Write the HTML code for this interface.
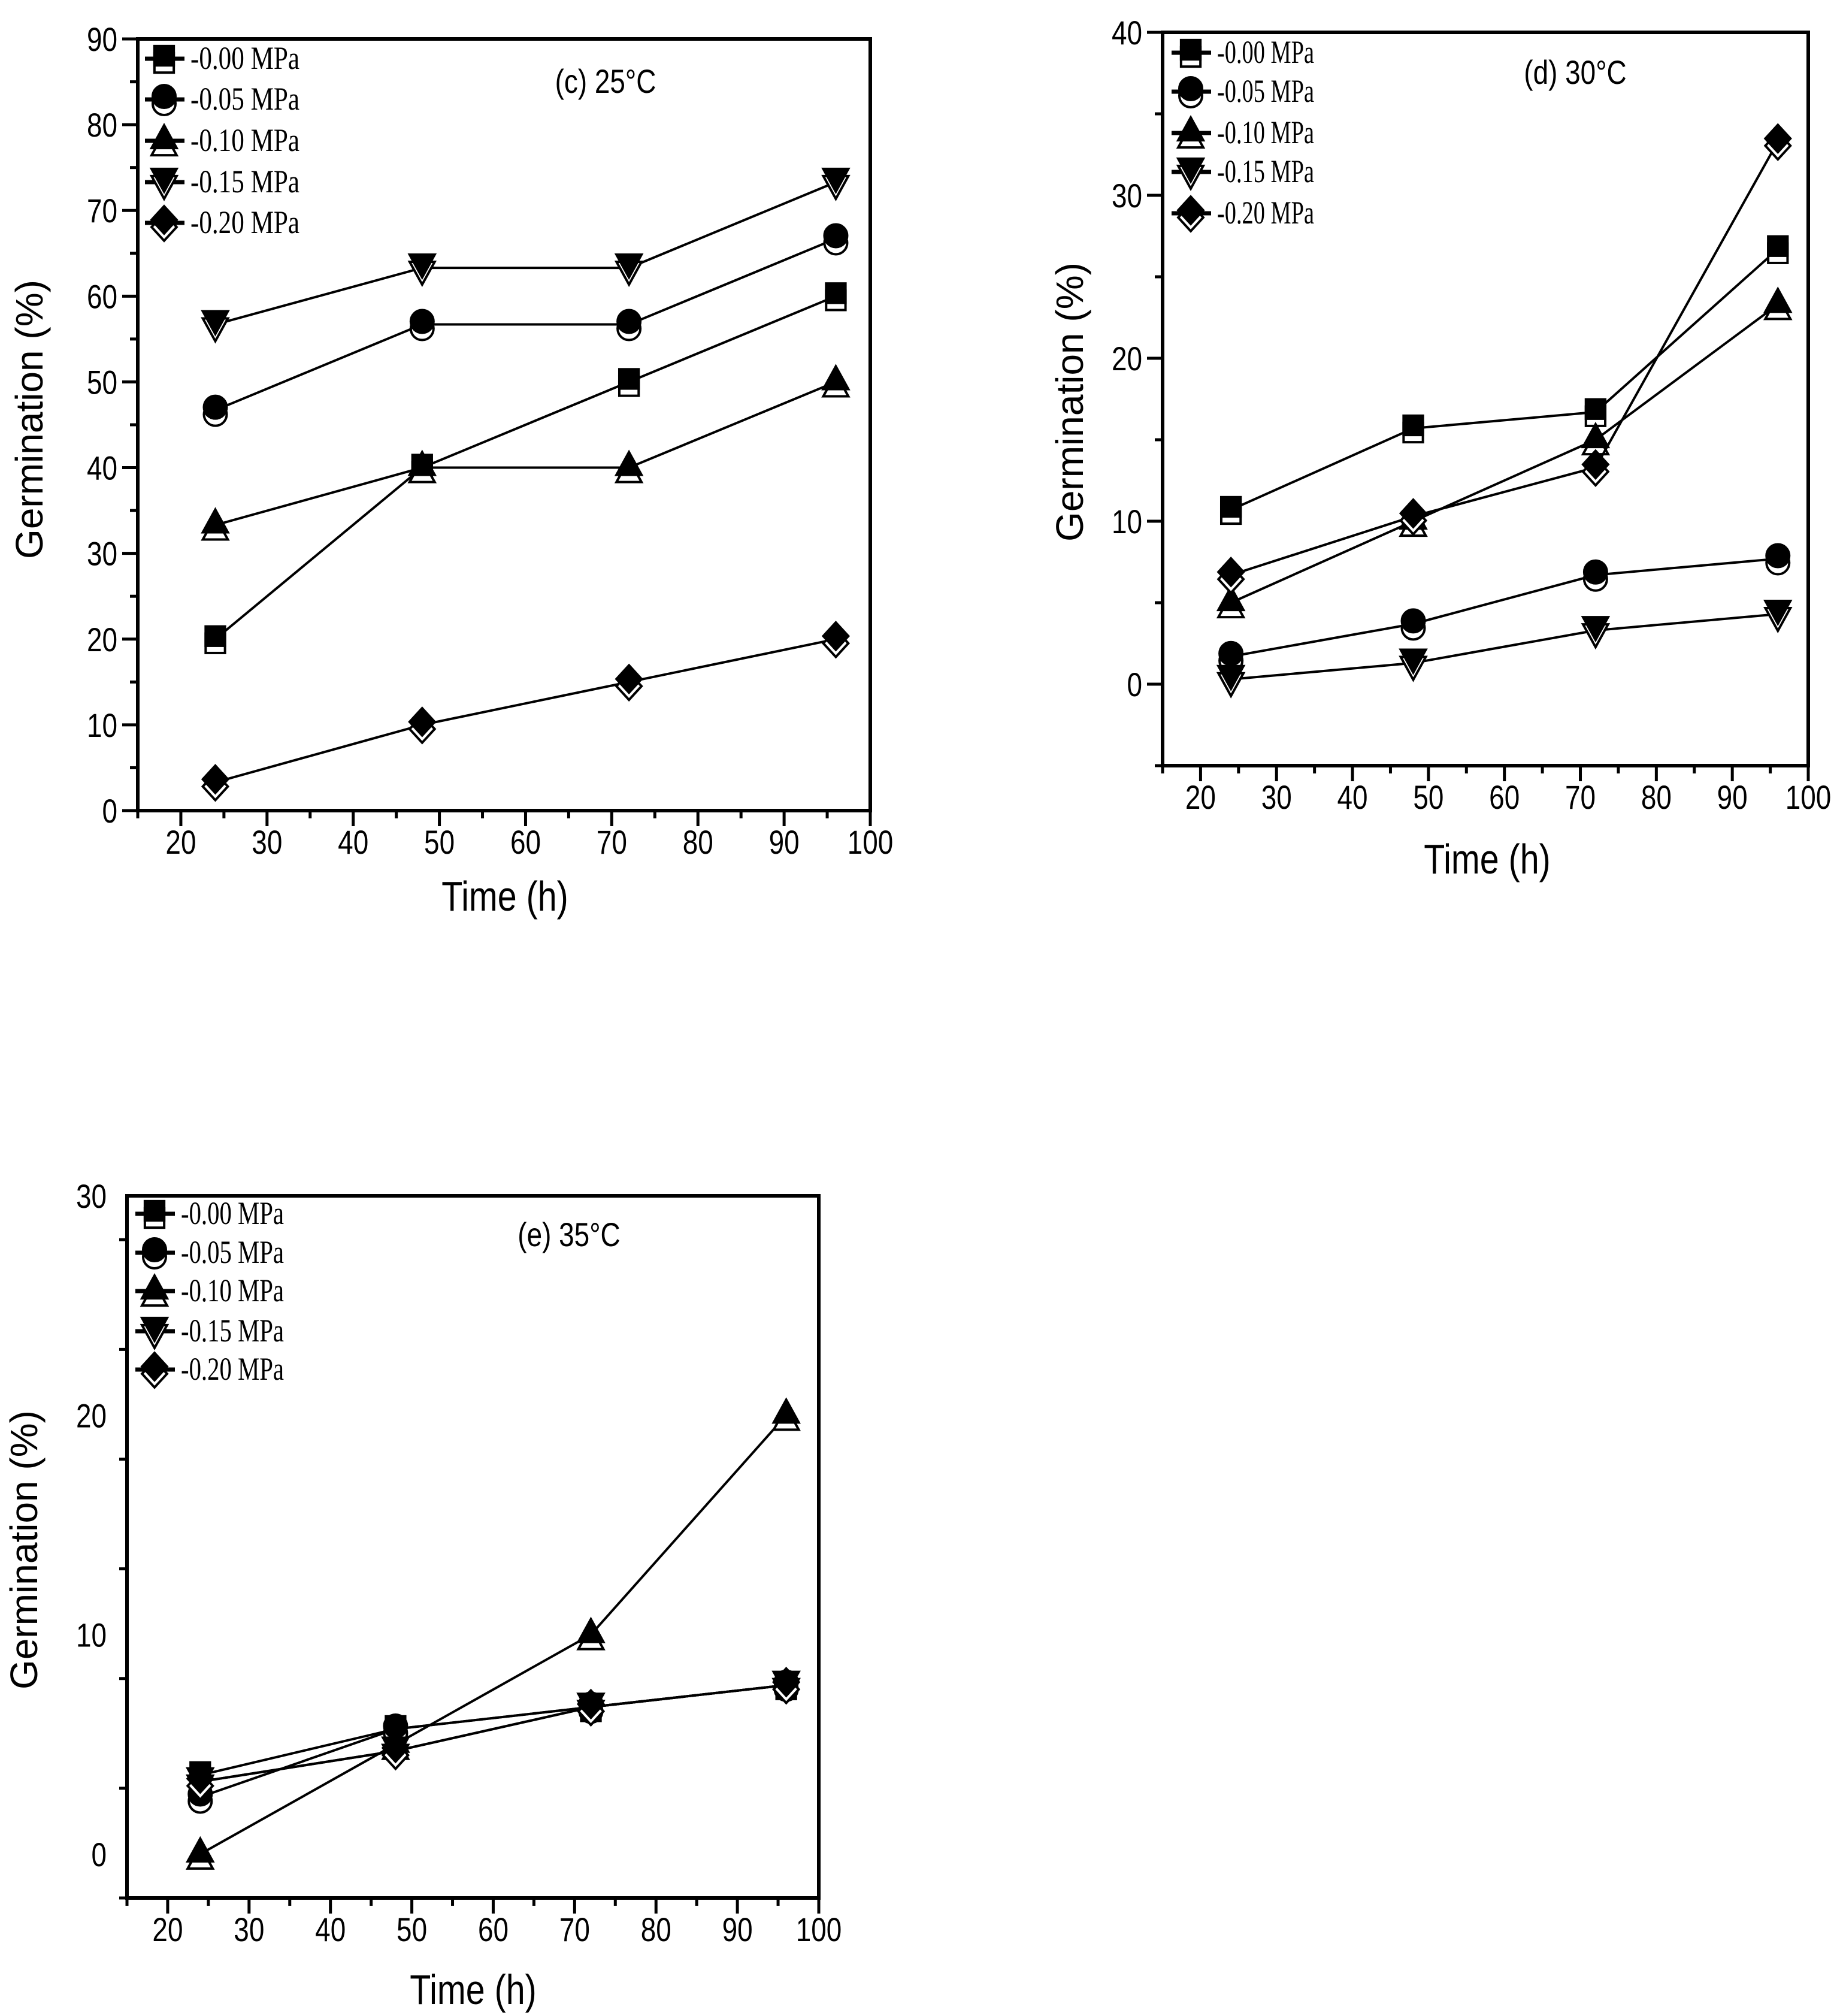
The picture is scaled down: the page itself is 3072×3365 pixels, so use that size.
<!DOCTYPE html>
<html><head><meta charset="utf-8"><style>
html,body{margin:0;padding:0;background:#fff;}
svg{display:block;}
.tk{font-family:"Liberation Sans",sans-serif;font-size:56px;}
.ax{font-family:"Liberation Sans",sans-serif;font-size:70px;}
.yt{font-family:"Liberation Sans",sans-serif;font-size:64px;}
.lg{font-family:"Liberation Serif",serif;font-size:54px;}
</style></head><body>
<svg id="chart" width="3072" height="3365" viewBox="0 0 3072 3365" xmlns="http://www.w3.org/2000/svg"></svg>
<script>
const times = [24, 48, 72, 96];
const seriesLabels = ["-0.00 MPa", "-0.05 MPa", "-0.10 MPa", "-0.15 MPa", "-0.20 MPa"];
const c_s0 = [20, 40, 50, 60];
const c_s1 = [46.7, 56.7, 56.7, 66.7];
const c_s2 = [33.3, 40, 40, 50];
const c_s3 = [56.7, 63.3, 63.3, 73.3];
const c_s4 = [3.3, 10, 15, 20];
const d_s0 = [10.7, 15.7, 16.7, 26.7];
const d_s1 = [1.7, 3.7, 6.7, 7.7];
const d_s2 = [5.0, 10.0, 15.0, 23.3];
const d_s3 = [0.3, 1.3, 3.3, 4.3];
const d_s4 = [6.7, 10.3, 13.3, 33.3];
const e_s0 = [3.6, 5.7, 6.7, 7.7];
const e_s1 = [2.6, 5.7, 6.7, 7.7];
const e_s2 = [0, 5, 10, 20];
const e_s3 = [3.3, 4.7, 6.7, 7.7];
const e_s4 = [3.3, 4.7, 6.7, 7.7];
const xTicks = [20, 30, 40, 50, 60, 70, 80, 90, 100];
const cYTicks = [0, 10, 20, 30, 40, 50, 60, 70, 80, 90];
const dYTicks = [0, 10, 20, 30, 40];
const eYTicks = [0, 10, 20, 30];

const NS = "http://www.w3.org/2000/svg";
const svg = document.getElementById('chart');
function mk(tag, attrs, parent) {
  const e = document.createElementNS(NS, tag);
  for (const k in attrs) e.setAttribute(k, attrs[k]);
  (parent || svg).appendChild(e);
  return e;
}
const SQ = 0.82;
function ntext(x, y, str, cls, anchor, parent) {
  const t = mk('text', {x: 0, y: 0, 'text-anchor': anchor, class: cls, transform: `translate(${x},${y}) scale(${SQ},1)`}, parent);
  t.textContent = str;
  return t;
}
const shapes = ['square', 'circle', 'up', 'down', 'diamond'];
function markerShape(shape, cx, cy, r, fill, g) {
  const st = {fill: fill, stroke: '#000', 'stroke-width': 4};
  let el;
  if (shape === 'square') el = mk('rect', Object.assign({x: cx - r * 0.85, y: cy - r * 0.85, width: r * 1.7, height: r * 1.7}, st), g);
  else if (shape === 'circle') el = mk('circle', Object.assign({cx: cx, cy: cy, r: r}, st), g);
  else if (shape === 'up') el = mk('polygon', Object.assign({points: `${cx},${cy - r * 1.1} ${cx + r * 1.1},${cy + r * 0.9} ${cx - r * 1.1},${cy + r * 0.9}`}, st), g);
  else if (shape === 'down') el = mk('polygon', Object.assign({points: `${cx},${cy + r * 1.1} ${cx + r * 1.1},${cy - r * 0.9} ${cx - r * 1.1},${cy - r * 0.9}`}, st), g);
  else el = mk('polygon', Object.assign({points: `${cx},${cy - r * 1.2} ${cx + r * 1.1},${cy} ${cx},${cy + r * 1.2} ${cx - r * 1.1},${cy}`}, st), g);
  return el;
}
function halfMarker(shape, cx, cy, r, g) {
  markerShape(shape, cx, cy + 7, r, '#fff', g);
  markerShape(shape, cx, cy - 5, r, '#000', g);
}

function panel(p) {
  const g = mk('g', {});
  
  
  const sx = v => p.L + (v - 15) / 85 * (p.R - p.L);
  const sy = v => p.B - (v - p.ymin) / (p.ymax - p.ymin) * (p.B - p.T);
  for (let v = 15; v <= 100; v += 5) {
    const major = v % 10 === 0;
    const t = mk('line', {x1: sx(v), x2: sx(v), y1: p.B, y2: p.B + (major ? 26 : 13), stroke: '#000', 'stroke-width': 5}, g);
    
    
  }
  xTicks.forEach(v => {
    const t = ntext(sx(v), p.B + 72, String(v), 'tk', 'middle', g);
    
    
  });
  for (let v = p.ymin; v <= p.ymax; v += 5) {
    const major = v % 10 === 0;
    const t = mk('line', {x1: p.L, x2: p.L - (major ? 26 : 13), y1: sy(v), y2: sy(v), stroke: '#000', 'stroke-width': 5}, g);
    
    
  }
  p.yTicks.forEach(v => {
    const t = ntext(p.L - 34, sy(v) + 20, String(v), 'tk', 'end', g);
    
    
  });
  const box = mk('rect', {x: p.L, y: p.T, width: p.R - p.L, height: p.B - p.T, fill: 'none', stroke: '#000', 'stroke-width': 6}, g);
  
  
  p.series.forEach((vals, i) => {
    const sg = mk('g', {}, g);
    
    
    const pts = vals.map((v, j) => sx(times[j]) + ',' + sy(v)).join(' ');
    mk('polyline', {points: pts, fill: 'none', stroke: '#000', 'stroke-width': 4}, sg);
    vals.forEach((v, j) => {
      const mg = mk('g', {}, sg);
      
      
      halfMarker(shapes[i], sx(times[j]), sy(v), 19, mg);
    });
  });
  const lg = mk('g', {}, g);
  
  
  seriesLabels.forEach((lab, i) => {
    const eg = mk('g', {}, lg);
    
    
    const y = p.legY[i];
    mk('line', {x1: p.legX - 24, x2: p.legX + 42, y1: y, y2: y, stroke: '#000', 'stroke-width': 7}, eg);
    halfMarker(shapes[i], p.legX + 8, y, 19, eg);
    const t = mk('text', {x: p.legX + 52, y: y + 17, class: 'lg', textLength: p.legW, lengthAdjust: 'spacingAndGlyphs'}, eg);
    t.textContent = lab;
  });
  const title = ntext(p.titleX, p.titleY + 21, p.title, 'tk', 'middle', g);
  
  
  const xt = ntext(p.xtX, p.xtY + 25, 'Time (h)', 'ax', 'middle', g);
  
  
  const yt = mk('text', {x: 0, y: 0, 'text-anchor': 'middle', class: 'yt', transform: `translate(${p.ytX + 22},${p.ytY}) rotate(-90)`}, g);
  
  
  yt.textContent = 'Germination (%)';
}

panel({name: 'panel-c-25c', L: 230, R: 1453, T: 65, B: 1353, ymin: 0, ymax: 90, yTicks: cYTicks,
  series: [c_s0, c_s1, c_s2, c_s3, c_s4], legX: 266, legY: [98, 166, 235, 304, 372], legW: 182,
  title: '(c) 25°C', titleX: 1011, titleY: 134, xtX: 843, xtY: 1495, ytX: 49, ytY: 700});
panel({name: 'panel-d-30c', L: 1941, R: 3019, T: 54, B: 1278, ymin: -5, ymax: 40, yTicks: dYTicks,
  series: [d_s0, d_s1, d_s2, d_s3, d_s4], legX: 1980, legY: [88, 153, 222, 287, 356], legW: 162,
  title: '(d) 30°C', titleX: 2630, titleY: 119, xtX: 2483, xtY: 1433, ytX: 1786, ytY: 671});
panel({name: 'panel-e-35c', L: 212, R: 1367, T: 1996, B: 3168, ymin: -2, ymax: 30, yTicks: eYTicks,
  series: [e_s0, e_s1, e_s2, e_s3, e_s4], legX: 250, legY: [2026, 2091, 2155, 2222, 2286], legW: 172,
  title: '(e) 35°C', titleX: 950, titleY: 2059, xtX: 790, xtY: 3320, ytX: 40, ytY: 2587});
</script>
</body></html>
